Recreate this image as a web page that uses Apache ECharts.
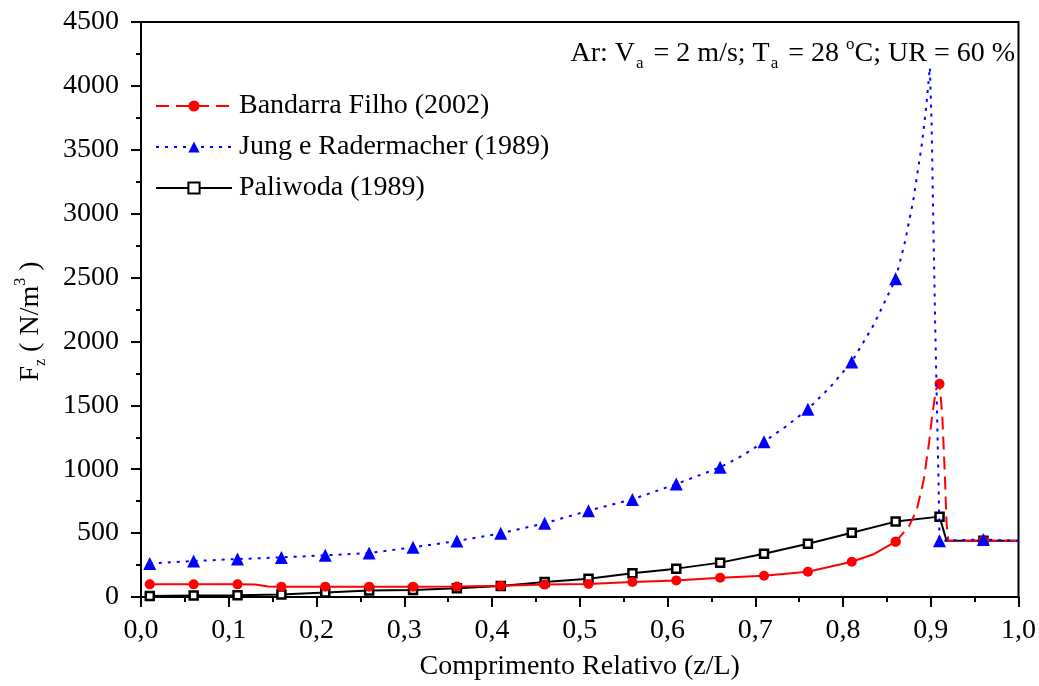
<!DOCTYPE html>
<html>
<head>
<meta charset="utf-8">
<script src="https://cdn.jsdelivr.net/npm/echarts@6/dist/echarts.min.js"></script>
<style>
  html, body { margin: 0; padding: 0; background: #fff; }
  #chart { width: 1039px; height: 686px; }
</style>
</head>
<body>
<div id="chart"></div>
<script>
// points that carry a marker (every 0.05 from 0.01)
const markerX = [0.01, 0.06, 0.11, 0.16, 0.21, 0.26, 0.31, 0.36, 0.41, 0.46,
                 0.51, 0.56, 0.61, 0.66, 0.71, 0.76, 0.81, 0.86, 0.91, 0.96];

// Bandarra Filho (2002)
const bandarraX = [0.01, 0.06, 0.11, 0.13, 0.145, 0.16, 0.21, 0.26, 0.31, 0.36, 0.41, 0.46,
                   0.51, 0.56, 0.61, 0.66, 0.71, 0.76, 0.81, 0.835, 0.86,
                   0.875, 0.884, 0.892, 0.898, 0.902, 0.906, 0.91, 0.913, 0.916, 0.918, 0.92, 0.96, 1.0];
const bandarraY = [99, 99, 99, 97, 82, 81, 81, 81, 81, 82, 88, 97,
                   102, 117, 130, 151, 167, 198, 276, 335, 433,
                   551, 681, 916, 1204, 1439, 1623, 1668, 1439, 971, 577, 440, 440, 440];
const bandarraDashFrom = 0.86;

// Jung e Radermacher (1989)
const jungX = [0.01, 0.06, 0.11, 0.16, 0.21, 0.26, 0.31, 0.36, 0.41, 0.46,
               0.51, 0.56, 0.61, 0.66, 0.685, 0.71, 0.735, 0.76, 0.785, 0.81, 0.835, 0.86,
               0.87, 0.88, 0.89, 0.895, 0.899, 0.901, 0.903, 0.905, 0.907, 0.909, 0.91, 0.96, 1.0];
const jungY = [263, 282, 297, 310, 326, 344, 389, 438, 498, 577,
               675, 764, 884, 1015, 1105, 1215, 1335, 1470, 1640, 1840, 2130, 2490,
               2760, 3100, 3550, 3850, 4145, 3700, 2900, 2150, 1500, 850, 440, 450, 440];

// Paliwoda (1989)
const paliwodaX = [0.01, 0.06, 0.11, 0.16, 0.21, 0.26, 0.31, 0.36, 0.41, 0.46,
                   0.51, 0.56, 0.61, 0.66, 0.71, 0.76, 0.81, 0.86, 0.91, 0.918, 0.96, 1.0];
const paliwodaY = [8, 12, 14, 20, 35, 50, 55, 68, 86, 118,
                   143, 185, 222, 269, 339, 417, 503, 590, 629, 440, 440, 440];

const xTicks = { min: 0, max: 1, interval: 0.1 };
const yTicks = { min: 0, max: 4500, interval: 500 };

const seriesNames = ['Bandarra Filho (2002)', 'Jung e Radermacher (1989)', 'Paliwoda (1989)'];

const FONT = 'Liberation Serif, Times New Roman, serif';
const FS = 28;

function isMarker(x){
    return markerX.some(m => Math.abs(m - x) < 1e-9);
}

function buildData(xs, ys, keep){
    let out = [];
    xs.forEach((x, i) => {
        if (keep && !keep(x)) return;
        out.push({ value: [x, ys[i]], symbol: isMarker(x) ? undefined : 'none' });
    });
    return out;
}

const chart = echarts.init(document.getElementById('chart'), null, { renderer: 'canvas' });

const option = {
    animation: false,
    backgroundColor: '#fff',
    textStyle: { fontFamily: FONT },
    grid: {
        left: 141, right: 19, top: 22, bottom: 89,
        show: true, borderColor: '#000', borderWidth: 2, backgroundColor: 'transparent'
    },
    legend: {
        data: seriesNames,
        orient: 'vertical',
        left: 150,
        top: 87,
        itemWidth: 76,
        itemHeight: 14,
        itemGap: 13,
        textStyle: { fontFamily: FONT, fontSize: FS, color: '#000', padding: [0, 0, 0, 2] }
    },
    graphic: [{
        type: 'text',
        right: 24,
        top: 36,
        style: {
            text: '{m|Ar: V}{s|a}{m| = 2 m/s; T}{s|a}{m| = 28 }{p|o}{m|C; UR = 60 %}',
            fill: '#000',
            rich: {
                m: { fontFamily: FONT, fontSize: FS, lineHeight: 36, verticalAlign: 'middle', fill: '#000' },
                s: { fontFamily: FONT, fontSize: 17, lineHeight: 14, verticalAlign: 'bottom', padding: [0, 3, 0, 1], fill: '#000' },
                p: { fontFamily: FONT, fontSize: 17, lineHeight: 15, verticalAlign: 'top', fill: '#000' }
            }
        }
    }],
    xAxis: {
        type: 'value',
        min: xTicks.min,
        max: xTicks.max,
        interval: xTicks.interval,
        name: 'Comprimento Relativo (z/L)',
        nameLocation: 'middle',
        nameGap: 56,
        nameTextStyle: { fontFamily: FONT, fontSize: FS, color: '#000' },
        axisLine: { show: true, onZero: false, lineStyle: { color: '#000', width: 2 } },
        axisTick: { show: true, inside: false, length: 10, lineStyle: { color: '#000', width: 2 } },
        minorTick: { show: true, splitNumber: 2, length: 5, lineStyle: { color: '#000', width: 2 } },
        splitLine: { show: false },
        axisLabel: {
            margin: 20,
            fontFamily: FONT, fontSize: FS, color: '#000',
            formatter: v => v.toFixed(1).replace('.', ',')
        }
    },
    yAxis: {
        type: 'value',
        min: yTicks.min,
        max: yTicks.max,
        interval: yTicks.interval,
        name: '{b|F}{s|z}{b| ( N/m}{p|3}{b| )}',
        nameLocation: 'middle',
        nameGap: 92,
        nameRotate: 90,
        nameTextStyle: {
            color: '#000',
            padding: [0, 24, 0, 0],
            rich: {
                b: { fontFamily: FONT, fontSize: FS, lineHeight: 36, verticalAlign: 'middle', color: '#000' },
                s: { fontFamily: FONT, fontSize: 16, lineHeight: 15, verticalAlign: 'bottom', color: '#000' },
                p: { fontFamily: FONT, fontSize: 16, lineHeight: 15, verticalAlign: 'top', color: '#000' }
            }
        },
        axisLine: { show: true, onZero: false, lineStyle: { color: '#000', width: 2 } },
        axisTick: { show: true, inside: false, length: 10, lineStyle: { color: '#000', width: 2 } },
        minorTick: { show: true, splitNumber: 2, length: 5, lineStyle: { color: '#000', width: 2 } },
        splitLine: { show: false },
        axisLabel: {
            margin: 22, fontFamily: FONT, fontSize: FS, color: '#000',
            formatter: v => String(v)
        }
    },
    series: [
        {
            // dashed part of Bandarra, listed first so the legend uses its style
            name: seriesNames[0],
            type: 'line',
            z: 3,
            data: buildData(bandarraX, bandarraY, x => x >= bandarraDashFrom),
            symbol: 'circle',
            symbolSize: 10,
            showSymbol: true,
            itemStyle: { color: '#ff0000' },
            lineStyle: { color: '#ff0000', width: 2, type: [13, 7] }
        },
        {
            name: seriesNames[0],
            type: 'line',
            z: 3,
            data: buildData(bandarraX, bandarraY, x => x <= bandarraDashFrom),
            symbol: 'circle',
            symbolSize: 10,
            showSymbol: true,
            itemStyle: { color: '#ff0000' },
            lineStyle: { color: '#ff0000', width: 2, type: 'solid' }
        },
        {
            name: seriesNames[2],
            type: 'line',
            z: 2,
            data: buildData(paliwodaX, paliwodaY),
            symbol: 'rect',
            symbolSize: 8,
            showSymbol: true,
            itemStyle: { color: '#fff', borderColor: '#000', borderWidth: 2.5 },
            lineStyle: { color: '#000', width: 2, type: 'solid' }
        },
        {
            name: seriesNames[1],
            type: 'line',
            z: 4,
            data: buildData(jungX, jungY),
            symbol: 'triangle',
            symbolSize: 13,
            showSymbol: true,
            itemStyle: { color: '#0000ff' },
            lineStyle: { color: '#0000ff', width: 2, type: [3, 6] }
        }
    ]
};

chart.setOption(option);
</script>
</body>
</html>
